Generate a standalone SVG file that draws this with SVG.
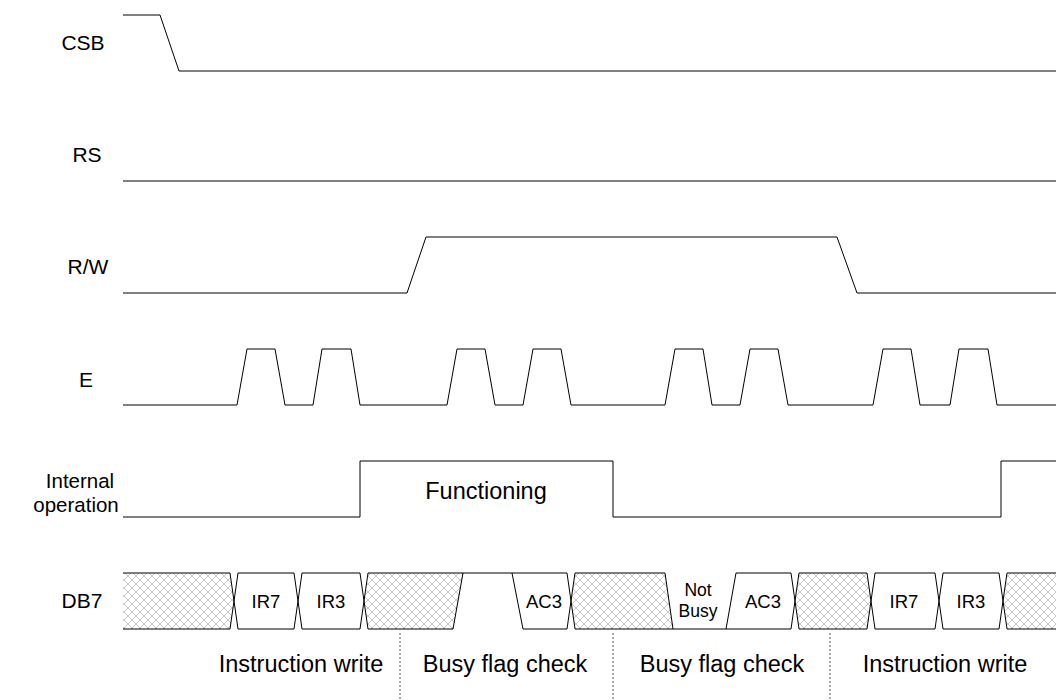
<svg xmlns="http://www.w3.org/2000/svg" width="1056" height="700" viewBox="0 0 1056 700">
<defs>
<pattern id="hatch" patternUnits="userSpaceOnUse" width="8" height="8">
<path d="M0,0 L8,8 M8,0 L0,8" stroke="#c8c8c8" stroke-width="1" fill="none"/>
</pattern>
<style>
.sig{fill:none;stroke:#000;stroke-width:1;stroke-linejoin:miter}
.lbl{font-family:"Liberation Sans",Arial,sans-serif;font-size:21px;fill:#000;text-anchor:middle}
.lbl2{font-family:"Liberation Sans",Arial,sans-serif;font-size:20.5px;fill:#000;text-anchor:middle}
.big{font-family:"Liberation Sans",Arial,sans-serif;font-size:23.5px;fill:#000;text-anchor:middle}
.db{font-family:"Liberation Sans",Arial,sans-serif;font-size:18.5px;fill:#000;text-anchor:middle}
.nb{font-family:"Liberation Sans",Arial,sans-serif;font-size:17.5px;fill:#000;text-anchor:middle}
.hat{fill:url(#hatch);stroke:none}
.div{stroke:#555;stroke-width:1;stroke-dasharray:2,2}
</style>
</defs>
<rect width="1056" height="700" fill="#fff"/>

<g id="labels">
<text class="lbl" x="83" y="50">CSB</text>
<text class="lbl" x="87" y="162">RS</text>
<text class="lbl" x="88" y="274">R/W</text>
<text class="lbl" x="86" y="387">E</text>
<text class="lbl2" x="80" y="488">Internal</text>
<text class="lbl2" x="76" y="512">operation</text>
<text class="lbl" x="82" y="608">DB7</text>
</g>

<g id="connectors">
<path id="csb" class="sig" d="M123,15 L160,15 L179,71 L1056,71"/>
<path id="rs" class="sig" d="M123,181 L1056,181"/>
<path id="rw" class="sig" d="M123,293 L407,293 L426,237 L837,237 L857,293 L1056,293"/>
<path id="e" class="sig" d="M123,405 L237,405 L247,349 L275,349 L285,405 L313,405 L322,349 L351,349 L360,405 L447,405 L457,349 L485,349 L495,405 L523,405 L533,349 L561,349 L571,405 L665,405 L675,349 L703,349 L712,405 L740,405 L750,349 L778,349 L788,405 L873,405 L883,349 L911,349 L920,405 L950,405 L959,349 L988,349 L997,405 L1056,405"/>
<path id="intop" class="sig" d="M123,517 L360,517 L360,461 L613,461 L613,517 L1001,517 L1001,461 L1056,461"/>
</g>

<g id="internal-label">
<text class="big" x="486" y="499">Functioning</text>
</g>

<g id="db7">
<polygon class="hat" points="123,573 230,573 234,601 230,629 123,629"/>
<polygon class="hat" points="368,573 463,573 453,629 368,629 364,601"/>
<polygon class="hat" points="575,573 665,573 673,629 575,629 571,601"/>
<polygon class="hat" points="799,573 867,573 871,601 867,629 799,629 795,601"/>
<polygon class="hat" points="1007,573 1056,573 1056,629 1007,629 1003,601"/>
<path class="sig" d="M123,573 L230,573 L234,601 L230,629 L123,629"/>
<path class="sig" d="M238,573 L294,573 L298,601 L294,629 L238,629 L234,601 Z"/>
<path class="sig" d="M302,573 L360,573 L364,601 L360,629 L302,629 L298,601 Z"/>
<path class="sig" d="M368,573 L512,573 M368,629 L453,629 L463,573 M368,573 L364,601 L368,629"/>
<path class="sig" d="M512,573 L567,573 L571,601 L567,629 L523,629 Z"/>
<path class="sig" d="M575,573 L665,573 L673,629 L575,629 L571,601 Z"/>
<path class="sig" d="M673,629 L726,629"/>
<path class="sig" d="M736,573 L791,573 L795,601 L791,629 L726,629 Z"/>
<path class="sig" d="M799,573 L867,573 L871,601 L867,629 L799,629 L795,601 Z"/>
<path class="sig" d="M875,573 L935,573 L939,601 L935,629 L875,629 L871,601 Z"/>
<path class="sig" d="M943,573 L999,573 L1003,601 L999,629 L943,629 L939,601 Z"/>
<path class="sig" d="M1056,573 L1007,573 L1003,601 L1007,629 L1056,629"/>
<text class="db" x="266" y="608">IR7</text>
<text class="db" x="331" y="608">IR3</text>
<text class="db" x="544" y="608">AC3</text>
<text class="nb" x="698" y="596">Not</text>
<text class="nb" x="698" y="617">Busy</text>
<text class="db" x="763" y="608">AC3</text>
<text class="db" x="904" y="608">IR7</text>
<text class="db" x="971" y="608">IR3</text>
</g>

<g id="phases">
<line class="div" x1="400" y1="633" x2="400" y2="700"/>
<line class="div" x1="613" y1="633" x2="613" y2="700"/>
<line class="div" x1="830" y1="633" x2="830" y2="700"/>
<text class="big" x="301" y="672">Instruction write</text>
<text class="big" x="505" y="672">Busy flag check</text>
<text class="big" x="722" y="672">Busy flag check</text>
<text class="big" x="945" y="672">Instruction write</text>
</g>
</svg>
